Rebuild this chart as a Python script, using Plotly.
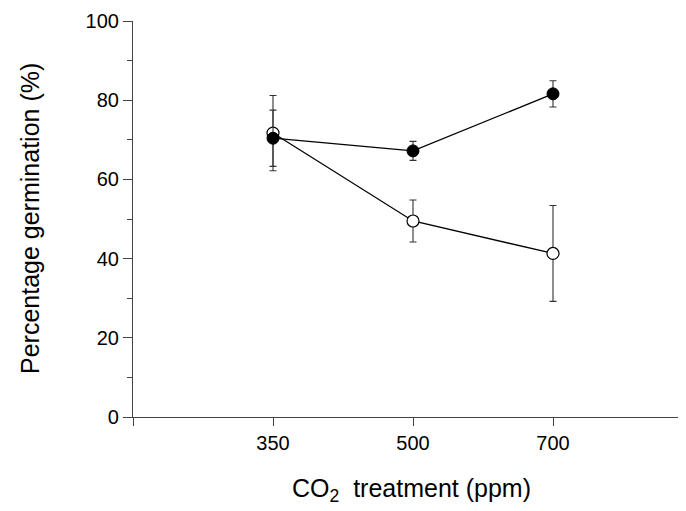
import plotly.graph_objects as go

categories = ["350", "500", "700"]
positions = [1, 2, 3]
filled_vals = [70.4, 67.2, 81.6]
filled_err = [7.1, 2.4, 3.3]
open_vals = [71.7, 49.5, 41.3]
open_err = [9.5, 5.3, 12.1]

fig = go.Figure()
fig.add_trace(go.Scatter(
    x=positions, y=open_vals, mode="lines+markers",
    line=dict(color="black", width=1.3),
    marker=dict(symbol="circle", size=12, color="white", line=dict(color="black", width=1.2)),
    error_y=dict(type="data", array=open_err, visible=True, color="#333", thickness=1.1, width=3.5),
    showlegend=False,
))
fig.add_trace(go.Scatter(
    x=positions, y=filled_vals, mode="lines+markers",
    line=dict(color="black", width=1.3),
    marker=dict(symbol="circle", size=12, color="black", line=dict(color="black", width=1)),
    error_y=dict(type="data", array=filled_err, visible=True, color="#333", thickness=1.1, width=3.5),
    showlegend=False,
))

font = "Liberation Sans, Arial, sans-serif"
fig.update_layout(
    width=678, height=503,
    margin=dict(l=125, r=1, t=13, b=94),
    plot_bgcolor="white", paper_bgcolor="white",
    font=dict(family=font, color="black"),
    xaxis=dict(
        range=[0, 552 / 140], tickvals=[0] + positions, ticktext=[""] + categories,
        showgrid=False, zeroline=False, showline=True, linecolor="#444", linewidth=1.2,
        ticks="outside", ticklen=8, tickcolor="#444", tickwidth=1,
        tickfont=dict(size=20, family=font), fixedrange=True,
    ),
    yaxis=dict(
        range=[0, 100], tickvals=[0, 20, 40, 60, 80, 100],
        showgrid=False, zeroline=False, showline=True, linecolor="#444", linewidth=1.2,
        ticks="outside", ticklen=9, tickcolor="#444", tickwidth=1,
        minor=dict(tickvals=[10, 30, 50, 70, 90], ticks="outside", ticklen=5, tickcolor="#444", tickwidth=1),
        tickfont=dict(size=20, family=font),
    ),
    annotations=[
        dict(text="CO<sub>2</sub>  treatment (ppm)", xref="paper", yref="paper",
             x=(411 - 133) / 552, y=-(490 - 417) / 396, xanchor="center", yanchor="middle",
             showarrow=False, font=dict(size=25, family=font)),
        dict(text="Percentage germination (%)", xref="paper", yref="paper",
             x=-(133 - 30) / 552, y=0.5, xanchor="center", yanchor="middle", textangle=-90,
             showarrow=False, font=dict(size=25, family=font)),
    ],
)

fig.write_html("out.html")
